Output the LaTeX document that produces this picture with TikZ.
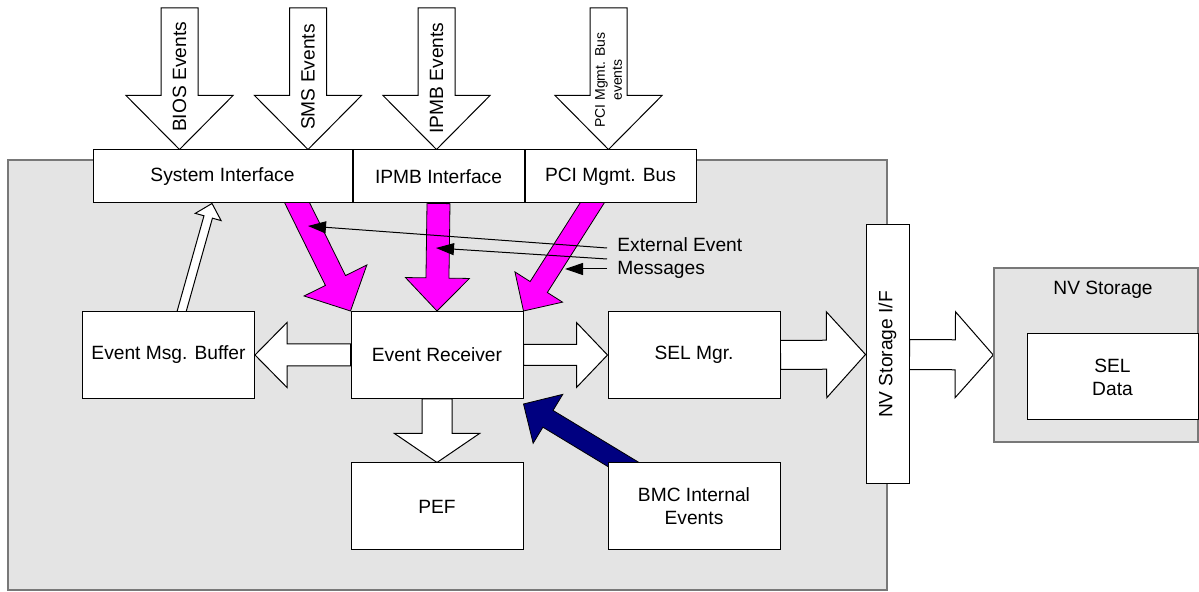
\documentclass[tikz,border=0pt]{standalone}
\usepackage{fontspec}
\setmainfont{Liberation Sans}
\usetikzlibrary{calc,arrows.meta}

\definecolor{panelgray}{RGB}{228,228,228}
\definecolor{edgegray}{RGB}{120,120,120}
\definecolor{bmcblue}{RGB}{0,0,128}
\definecolor{feedpink}{RGB}{255,0,255}

\pgfdeclarelayer{background}
\pgfsetlayers{background,main}

% block arrow: style, from, to, half shaft, half head, head length
\newcommand{\blockarrow}[6]{%
	\draw[#1] ($(#2)!#4!90:(#3)$)
		-- ($(#3)!#6!(#2)!#4!90:(#3)$)
		-- ($(#3)!#6!(#2)!#5!90:(#3)$)
		-- (#3)
		-- ($(#3)!#6!(#2)!#5!-90:(#3)$)
		-- ($(#3)!#6!(#2)!#4!-90:(#3)$)
		-- ($(#2)!#4!-90:(#3)$) -- cycle;}

\tikzset{
	lbl/.style={font=\fontsize{9.6}{11.5}\selectfont, align=center},
	box/.style={draw, fill=white, line width=0.5pt, inner sep=0pt, lbl},
	unit/.style={box, minimum width=86pt, minimum height=43.5pt},
	port/.style={box, minimum width=85.5pt, minimum height=26.5pt},
	hollow/.style={draw, fill=white, line width=0.5pt},
	feed/.style={draw, fill=feedpink, line width=0.4pt},
	internal/.style={draw, fill=bmcblue, line width=0.4pt},
	panel/.style={draw=edgegray, fill=panelgray, line width=0.75pt},
	pointer/.style={-{Triangle[length=9pt,width=6pt]}, line width=0.5pt},
}

\begin{document}
\begin{tikzpicture}[x=0.5pt, y=-0.5pt]
	\useasboundingbox (0,0) rectangle (1199,592);
	
	% Interfaces
	\node[port, minimum width=129.5pt] (si) at (222.5,176.5) {System Interface};
	\node[port, anchor=west] (ipmb) at (si.east) {IPMB Interface};
	\node[port, anchor=west] (pci) at (ipmb.east) {PCI Mgmt. Bus};
	
	% Event handling
	\node[unit] (er) at (437,355) {Event Receiver};
	\node[unit] (buf) at (168.5,355) {Event Msg. Buffer};
	\node[unit] (sel) at (694,355) {SEL Mgr.};
	\node[unit] (pef) at (437,506.5) {PEF};
	\node[unit] (bmc) at (694,506.5) {BMC Internal\\Events};
	
	% NV storage
	\node[box, minimum width=21.5pt, minimum height=129.5pt] (nvif) at (887.5,354.5) {\rotatebox{90}{NV Storage I/F}};
	\node[panel, minimum width=102pt, minimum height=87pt] (nvs) at (1096,355) {};
	\node[lbl] (nvs-title) at (1103,290) {NV Storage};
	\node[box, minimum width=85.5pt, minimum height=43pt] (seldata) at (1112.5,377) {SEL\\Data};
	
	% Incoming event labels
	\node[lbl, rotate=90] (bios-lbl) at (179.5,77) {BIOS Events};
	\node[lbl, rotate=90] (sms-lbl) at (308,77) {SMS Events};
	\node[lbl, rotate=90] (ipmb-lbl) at (436.5,78) {IPMB Events};
	\node[align=center, rotate=90, font=\fontsize{7}{8.5}\selectfont] (pci-lbl) at (608.5,80) {PCI Mgmt. Bus\\events};
	
	% Free ends
	\coordinate (bios) at (179.5,8);
	\coordinate (sms) at (308,8);
	\coordinate (ipmbev) at (436.5,8);
	\coordinate (pcibus) at (608.5,8);
	\coordinate (bios-in) at (bios |- si.north);
	\coordinate (sms-in) at (sms |- si.north);
	\coordinate (ipmbev-in) at (ipmbev |- ipmb.north);
	\coordinate (pcibus-in) at (pcibus |- pci.north);
	\coordinate (si-out) at ($(si.south)+(71,-8)$);
	\coordinate (pci-out) at ($(pci.south)+(-13.6,-8)$);
	\coordinate (bmc-out) at (649,480);
	\coordinate (er-in) at ($(er.south east)+(0,5)$);
	\coordinate (buf-out) at ($(buf.north)+(11,8)$);
	\coordinate (si-in) at ($(si.south)+(-10.5,0)$);
	
	\begin{pgfonlayer}{background}
		% Controller
		\draw[panel] (8,160) rectangle (887,590);
		
		% External events
		\blockarrow{hollow}{bios}{bios-in}{9.25pt}{26.75pt}{27pt}
		\blockarrow{hollow}{sms}{sms-in}{9.25pt}{26.75pt}{27pt}
		\blockarrow{hollow}{ipmbev}{ipmbev-in}{9.25pt}{26.75pt}{27pt}
		\blockarrow{hollow}{pcibus}{pcibus-in}{9.25pt}{26.75pt}{27pt}
		
		% Messages to receiver
		\blockarrow{feed}{si-out}{er.north west}{5.6pt}{17.5pt}{17pt}
		\blockarrow{feed}{ipmb.south}{er.north}{5.75pt}{16pt}{16.5pt}
		\blockarrow{feed}{pci-out}{er.north east}{5.1pt}{14.1pt}{14.2pt}
		\blockarrow{internal}{bmc-out}{er-in}{4.9pt}{14.3pt}{14.3pt}
		
		% Internal paths
		\blockarrow{hollow}{buf-out}{si-in}{2.2pt}{6.7pt}{7pt}
		\blockarrow{hollow}{er.west}{buf.east}{5.5pt}{16.25pt}{16pt}
		\blockarrow{hollow}{er.east}{sel.west}{5.25pt}{16.25pt}{15.5pt}
		\blockarrow{hollow}{er.south}{pef.north}{7.5pt}{21.25pt}{14.5pt}
		\blockarrow{hollow}{sel.east}{nvif.west}{7.25pt}{21.5pt}{19.5pt}
		\blockarrow{hollow}{nvif.east}{nvs.west}{7.5pt}{21.5pt}{19pt}
	\end{pgfonlayer}
	
	% External event messages
	\node[lbl, align=left, anchor=west, inner sep=0pt] (msg) at (617,258) {External Event\\Messages};
	\coordinate (msg-a) at ($(msg.west)+(-10,-10)$);
	\coordinate (msg-b) at ($(msg.west)+(-10,1)$);
	\coordinate (msg-c) at ($(msg.west)+(-10,11)$);
	\coordinate (hit-a) at (308,226);
	\coordinate (hit-b) at (436,248);
	\coordinate (hit-c) at (565,269);
	\draw[pointer] (msg-a) -- (hit-a);
	\draw[pointer] (msg-b) -- (hit-b);
	\draw[pointer] (msg-c) -- (hit-c);
\end{tikzpicture}
\end{document}
